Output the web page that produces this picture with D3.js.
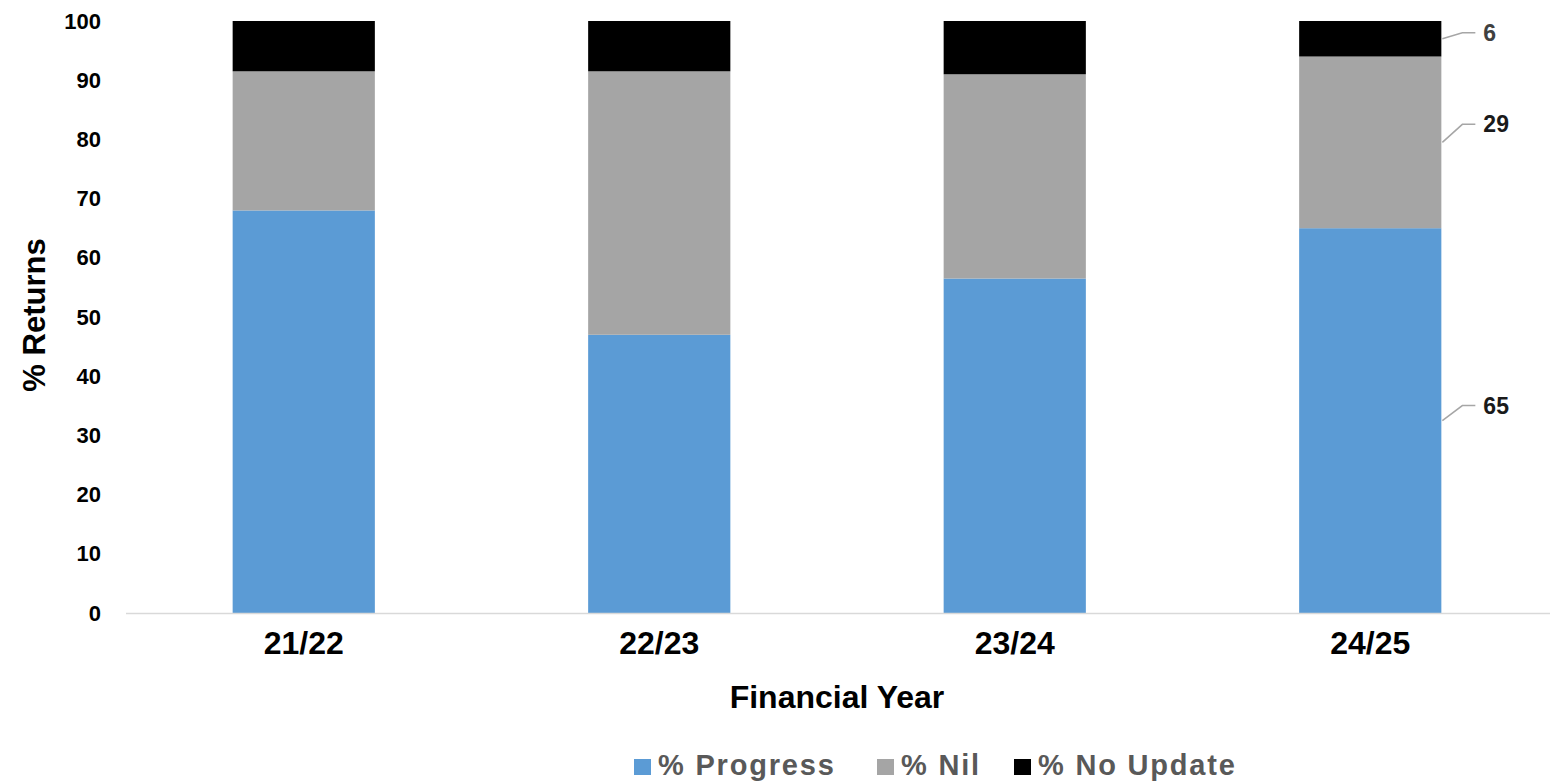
<!DOCTYPE html>
<html>
<head>
<meta charset="utf-8">
<script src="https://cdn.jsdelivr.net/npm/d3@7"></script>
<style>
  body { margin: 0; background: #fff; }
  text { font-family: "Liberation Sans", Arial, sans-serif; font-weight: bold; }
</style>
</head>
<body>
<div id="chart"></div>
<script>
// data
var years = ["21/22", "22/23", "23/24", "24/25"];
var seriesNames = ["% Progress", "% Nil", "% No Update"];
var progress = [68, 47, 56.5, 65];
var nil = [23.5, 44.5, 34.5, 29];
var noUpdate = [8.5, 8.5, 9, 6];
var yTicks = [0, 10, 20, 30, 40, 50, 60, 70, 80, 90, 100];
var colors = ["#5b9bd5", "#a5a5a5", "#000000"];

var width = 1550,
    height = 782;

var svg = d3.select("#chart")
    .append("svg")
    .attr("width", width)
    .attr("height", height)

var rows = years.map(function (y, i) {
    return { year: y, "% Progress": progress[i], "% Nil": nil[i], "% No Update": noUpdate[i] }
})

var stacked = d3.stack().keys(seriesNames)(rows)

var x = d3.scaleBand().domain(years).range([126, 1548]).paddingInner(0.6).paddingOuter(0.3)
var y = d3.scaleLinear().domain([0, 100]).range([613, 21])

var color = d3.scaleOrdinal().domain(seriesNames).range(colors)

// y axis labels (no line, no ticks)
var yAxis = svg.append("g")
    .attr("transform", "translate(104,0)")
    .call(d3.axisLeft(y).tickValues(yTicks).tickSize(0).tickPadding(3))
yAxis.select(".domain").remove()
yAxis.selectAll("text")
    .style("font-size", "22px")
    .attr("fill", "#000")

// bars
svg.append("g").selectAll("g")
    .data(stacked)
    .enter().append("g")
    .attr("fill", function (d) { return color(d.key) })
    .selectAll("rect")
    .data(function (d) { return d })
    .enter().append("rect")
    .attr("x", function (d) { return x(d.data.year) })
    .attr("width", x.bandwidth())
    .attr("y", function (d) { return y(d[1]) })
    .attr("height", function (d) { return y(d[0]) - y(d[1]) })

// x axis
var xAxis = svg.append("g")
    .attr("transform", "translate(0," + y(0) + ")")
    .call(d3.axisBottom(x).tickSize(0).tickPadding(18))
xAxis.select(".domain").remove()
svg.append("line")
    .attr("x1", 126).attr("x2", width)
    .attr("y1", y(0) + 0.5).attr("y2", y(0) + 0.5)
    .attr("stroke", "#d9d9d9")
    .attr("stroke-width", 1.5)
xAxis.selectAll("text")
    .style("font-size", "32px")
    .attr("fill", "#000")

// axis titles
svg.append("text")
    .attr("x", 837)
    .attr("y", 708)
    .attr("text-anchor", "middle")
    .style("font-size", "32px")
    .text("Financial Year")

svg.append("text")
    .attr("transform", "translate(45,315) rotate(-90)")
    .attr("text-anchor", "middle")
    .style("font-size", "31px")
    .text("% Returns")

// data labels on the last bar with leader lines
var last = years.length - 1
var lift = [15, 18, 6]
var labels = svg.append("g")
stacked.forEach(function (s, i) {
    var d = s[last]
    var x0 = x(d.data.year) + x.bandwidth()
    var ym = y((d[0] + d[1]) / 2)
    var ty = ym - lift[i]
    labels.append("path")
        .attr("d", "M" + (x0 + 1) + "," + ym + "L" + (x0 + 21) + "," + ty + "L" + (x0 + 34) + "," + ty)
        .attr("fill", "none")
        .attr("stroke", "#a6a6a6")
        .attr("stroke-width", 1.5)
    labels.append("text")
        .attr("x", x0 + 42)
        .attr("y", ty)
        .attr("dy", "0.35em")
        .style("font-size", "23px")
        .attr("fill", i == 2 ? "#404040" : "#1a1a1a")
        .text(d3.format(".0f")(d[1] - d[0]))
})

// legend
var legendX = [634, 877, 1014]
var legend = svg.append("g").selectAll("g")
    .data(seriesNames)
    .enter().append("g")
    .attr("transform", function (d, i) { return "translate(" + legendX[i] + ",759)" })
legend.append("rect")
    .attr("width", 17)
    .attr("height", 16)
    .attr("fill", function (d) { return color(d) })
legend.append("text")
    .attr("x", 24)
    .attr("y", 16)
    .style("font-size", "29px")
    .style("letter-spacing", "1.8px")
    .attr("fill", "#595959")
    .text(function (d) { return d })
</script>
</body>
</html>
